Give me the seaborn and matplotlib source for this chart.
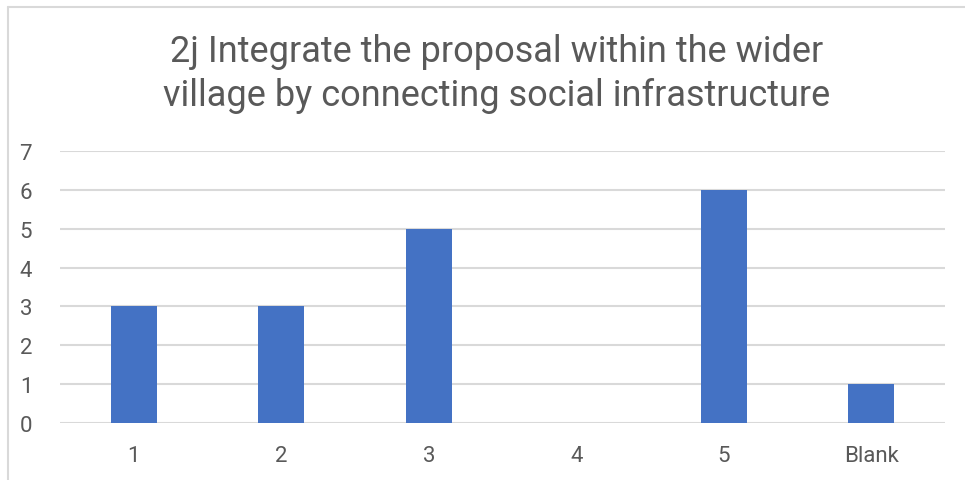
import matplotlib
matplotlib.use("Agg")
import matplotlib.pyplot as plt
import seaborn as sns
import pandas as pd
from matplotlib.lines import Line2D

categories = ["1", "2", "3", "4", "5", "Blank"]
counts = [3, 3, 5, 0, 6, 1]
yticks = [0, 1, 2, 3, 4, 5, 6, 7]
title = "2j Integrate the proposal within the wider\nvillage by connecting social infrastructure"

sns.set_theme(style="white")
plt.rcParams['font.family'] = ['Roboto', 'DejaVu Sans']

df = pd.DataFrame({"cat": categories, "count": counts})

fig = plt.figure(figsize=(9.65, 4.81), dpi=100)
ax = fig.add_axes([60/965, 1-424/481, 885/965, 272/481])
sns.barplot(data=df, x="cat", y="count", color="#4472C4", saturation=1,
            width=0.31, ax=ax, zorder=3, linewidth=0, edgecolor="none")
ax.set_ylim(0, 7)
ax.set_yticks(yticks)
ax.set_xlim(-0.5, len(categories)-0.5)
ax.grid(axis="y", color="#d9d9d9", linewidth=1.5, zorder=0)
ax.set_axisbelow(True)
for s in ax.spines.values():
    s.set_visible(False)
ax.set_xlabel("")
ax.set_ylabel("")
ax.tick_params(axis="both", length=0, labelsize=16, colors="#595959")
ax.tick_params(axis="y", pad=20)
ax.tick_params(axis="x", pad=16)
fig.text(0.5145, 1-74/481, title, ha="center", va="center", fontsize=26,
         color="#595959", linespacing=1.32)

# chart border (left & top visible)
fig.add_artist(Line2D([7.5/965, 7.5/965], [0, 1-7.5/481], color="#d9d9d9", lw=1.5, transform=fig.transFigure))
fig.add_artist(Line2D([7.5/965, 1], [1-7.5/481, 1-7.5/481], color="#d9d9d9", lw=1.5, transform=fig.transFigure))

fig.savefig("out.png", dpi=100, facecolor="white")
